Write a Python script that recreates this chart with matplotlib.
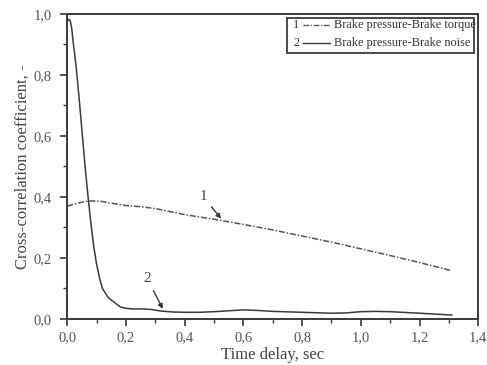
import matplotlib
matplotlib.use("Agg")
import matplotlib.pyplot as plt
import matplotlib.ticker as mticker
from matplotlib.patches import Rectangle
import numpy as np

# Curve 1: brake pressure - brake torque
t1 = [0.0, 0.03, 0.06, 0.09, 0.12, 0.16, 0.2, 0.25, 0.3, 0.35, 0.4, 0.5, 0.6,
      0.7, 0.8, 0.9, 1.0, 1.1, 1.2, 1.31]
r1 = [0.370, 0.378, 0.385, 0.387, 0.385, 0.378, 0.372, 0.368, 0.362, 0.352, 0.342,
      0.327, 0.310, 0.292, 0.272, 0.252, 0.230, 0.208, 0.185, 0.158]

# Curve 2: brake pressure - brake noise
t2 = [0.0, 0.005, 0.01, 0.015, 0.02, 0.03, 0.04, 0.05, 0.06, 0.07, 0.08, 0.09,
      0.1, 0.11, 0.12, 0.14, 0.16, 0.18, 0.2, 0.22, 0.25, 0.28, 0.32, 0.36,
      0.4, 0.45, 0.5, 0.55, 0.6, 0.65, 0.7, 0.8, 0.9, 0.95, 1.0, 1.05, 1.1,
      1.2, 1.31]
r2 = [0.975, 0.982, 0.978, 0.955, 0.91, 0.83, 0.73, 0.62, 0.51, 0.41, 0.32, 0.24,
      0.18, 0.135, 0.10, 0.07, 0.055, 0.04, 0.035, 0.033, 0.033, 0.032, 0.026, 0.023,
      0.022, 0.022, 0.024, 0.027, 0.030, 0.028, 0.025, 0.022, 0.019, 0.020, 0.024, 0.025, 0.024,
      0.019, 0.013]

legend_nums = ["1", "2"]
legend_labels = ["Brake pressure-Brake torque", "Brake pressure-Brake noise"]

plt.rcParams["font.family"] = ["Liberation Serif", "DejaVu Serif"]

fig = plt.figure(figsize=(4.87, 3.65), dpi=100)
ax = fig.add_axes([0.138, 0.126, 0.844, 0.836])

col = "#3a3a3a"
dashdot = (0, (4, 1.2, 1, 1.2))
ax.plot(t1, r1, color="#555555", lw=1.1, linestyle=dashdot)
ax.plot(t2, r2, color=col, lw=1.1)

ax.set_xlim(0, 1.4)
ax.set_ylim(0, 1.0)
ax.xaxis.set_major_locator(mticker.MultipleLocator(0.2))
ax.xaxis.set_minor_locator(mticker.MultipleLocator(0.1))
ax.yaxis.set_major_locator(mticker.MultipleLocator(0.2))
ax.yaxis.set_minor_locator(mticker.MultipleLocator(0.1))
fmt = mticker.FuncFormatter(lambda v, p: f"{v:.1f}".replace(".", ","))
ax.xaxis.set_major_formatter(fmt)
ax.yaxis.set_major_formatter(fmt)
ax.tick_params(which="both", direction="out", colors=col, labelcolor="#555555",
               labelsize=10.5, top=False, right=False)
ax.tick_params(which="major", length=5, width=1.2)
ax.tick_params(axis="y", which="major", pad=6)
ax.tick_params(which="minor", length=3, width=1.0)
for s in ax.spines.values():
    s.set_color(col)
    s.set_linewidth(1.4)

ax.set_xlabel("Time delay, sec", fontsize=12, color="#444444", labelpad=2)
ax.set_ylabel("Cross-correlation coefficient, -", fontsize=12, color="#444444")
ax.yaxis.set_label_coords(-0.09, 0.5)

# curve annotations
ax.annotate("1", xy=(0.53, np.interp(0.53, t1, r1)), xytext=(0.45, 0.39),
            fontsize=11, color="#444444",
            arrowprops=dict(arrowstyle="-|>", color=col, lw=1.0, mutation_scale=7))
ax.annotate("2", xy=(0.33, np.interp(0.33, t2, r2)), xytext=(0.26, 0.12),
            fontsize=11, color="#444444",
            arrowprops=dict(arrowstyle="-|>", color=col, lw=1.0, mutation_scale=7))

# legend box drawn by hand: number, line sample, label
ax.add_patch(Rectangle((0.535, 0.872), 0.455, 0.115, transform=ax.transAxes,
                       fill=False, edgecolor=col, lw=1.3, zorder=5))
styles = [dict(color="#555555", linestyle=dashdot), dict(color=col, linestyle="-")]
for i, (num, lab, st) in enumerate(zip(legend_nums, legend_labels, styles)):
    yy = 0.962 - i * 0.058
    ax.text(0.565, yy, num, transform=ax.transAxes, fontsize=8.8, color="#333333",
            ha="right", va="center")
    ax.plot([0.573, 0.640], [yy, yy], transform=ax.transAxes, lw=1.0, **st)
    ax.text(0.650, yy, lab, transform=ax.transAxes, fontsize=8.8, color="#333333",
            ha="left", va="center")

fig.savefig("out.png", dpi=100)
